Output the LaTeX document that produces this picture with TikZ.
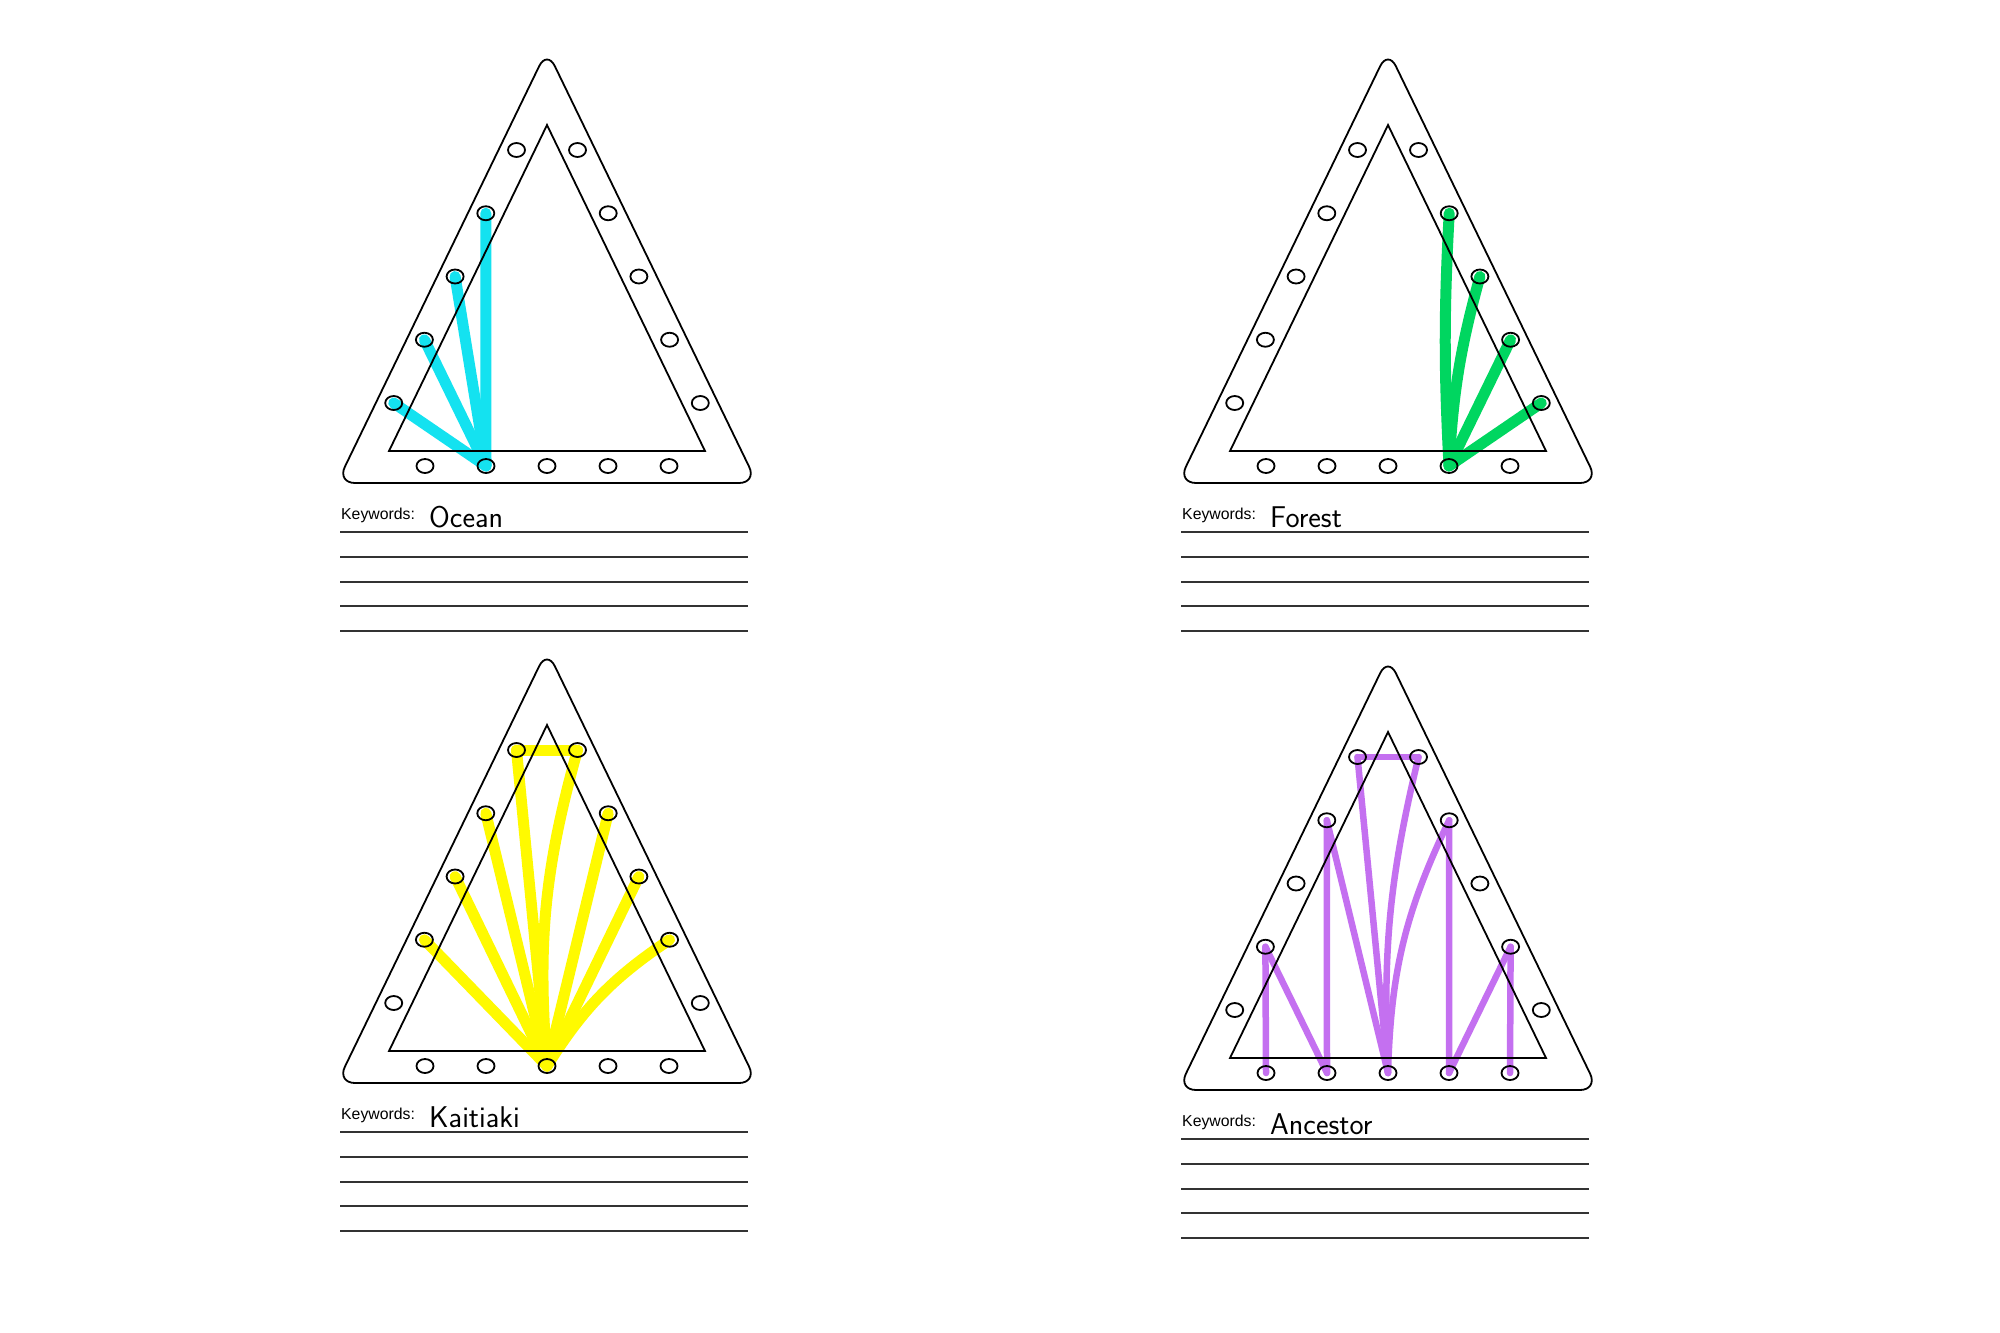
\documentclass[tikz,border=0pt]{standalone}
\usepackage{fontspec}
\setmainfont{Liberation Sans}
\usetikzlibrary{shapes.geometric}

\definecolor{oceancyan}{RGB}{20,226,240}
\definecolor{forestgreen}{RGB}{0,214,96}
\definecolor{kaitiakiyellow}{RGB}{255,250,0}
\definecolor{ancestorpurple}{RGB}{196,112,240}

\pgfdeclarelayer{paper}
\pgfdeclarelayer{ink}
\pgfsetlayers{paper,ink,main}

\tikzset{
  rim/.style={line width=1.8, rounded corners=18},
  edge/.style={line width=1.8},
  hole/.style={ellipse, draw, line width=1.8, minimum width=17, minimum height=14, inner sep=0},
  rule/.style={line width=1.6, black!80},
  kw/.style={font=\fontsize{15.8}{19}\selectfont, inner sep=0},
  hand/.style={font=\sffamily\fontsize{30}{36}\selectfont, inner sep=0},
  strand/.style={line width=11, line cap=round, draw=#1},
  thin strand/.style={line width=6.5, line cap=round, draw=#1},
}

% one lacing board: name, x shift, y shift, keyword
\newcommand{\board}[4]{%
  \begin{scope}[shift={(#2,#3)}]
    \draw[rim] (547,483) -- (757,483) -- (547,50) -- (337,483) -- cycle;
    \draw[edge] (547,125) -- (705,451) -- (389,451) -- cycle;
    \foreach \i in {1,...,5} {
      \node[hole] (#1L\i) at ({516.5-30.7*(\i-1)}, {150+63.25*(\i-1)}) {};
      \node[hole] (#1R\i) at ({577.5+30.7*(\i-1)}, {150+63.25*(\i-1)}) {};
      \node[hole] (#1B\i) at ({425+61*(\i-1)}, 466) {};
    }
    \node[kw, anchor=base west] (#1kw) at (341,519) {Keywords:};
    \node[hand, anchor=base west] (#1word) at (429,527) {#4};
    \foreach \y in {532,557,582,606,631} \draw[rule] (340,\y) -- (748,\y);
  \end{scope}}

\begin{document}
\begin{tikzpicture}[x=1pt, y=-1pt]
  \begin{pgfonlayer}{paper}
    \fill[white] (0,0) rectangle (2000,1333);
  \end{pgfonlayer}
  \useasboundingbox (0,0) rectangle (2000,1333);

  \board{oc}{0}{0}{Ocean}
  \board{fo}{841}{0}{Forest}
  \board{ka}{0}{600}{Kaitiaki}
  \board{an}{841}{607}{Ancestor}

  \begin{pgfonlayer}{ink}
    % Ocean
    \foreach \h in {L2,L3,L4,L5}
      \draw[strand=oceancyan] (ocB2.center) -- (oc\h.center);
    % Forest
    \draw[strand=forestgreen] (foB4.center) to[bend left=3] (foR2.center);
    \draw[strand=forestgreen] (foB4.center) to[bend left=6] (foR3.center);
    \draw[strand=forestgreen] (foB4.center) -- (foR4.center);
    \draw[strand=forestgreen] (foB4.center) -- (foR5.center);
    % Kaitiaki
    \draw[strand=kaitiakiyellow] (kaL1.center) -- (kaR1.center);
    \foreach \h in {L1,L2,L3,L4,R2,R3}
      \draw[strand=kaitiakiyellow] (kaB3.center) -- (ka\h.center);
    \draw[strand=kaitiakiyellow] (kaB3.center) to[bend left=10] (kaR1.center);
    \draw[strand=kaitiakiyellow] (kaB3.center) to[bend left=12] (kaR4.center);
    % Ancestor
    \draw[thin strand=ancestorpurple] (anL1.center) -- (anR1.center);
    \draw[thin strand=ancestorpurple] (anL1.center) -- (anB3.center);
    \draw[thin strand=ancestorpurple] (anB3.center) to[bend left=8] (anR1.center);
    \draw[thin strand=ancestorpurple] (anL2.center) -- (anB2.center);
    \draw[thin strand=ancestorpurple] (anL2.center) -- (anB3.center);
    \draw[thin strand=ancestorpurple] (anL4.center) -- (anB1.center);
    \draw[thin strand=ancestorpurple] (anL4.center) -- (anB2.center);
    \draw[thin strand=ancestorpurple] (anB3.center) to[bend left=12] (anR2.center);
    \draw[thin strand=ancestorpurple] (anR2.center) -- (anB4.center);
    \draw[thin strand=ancestorpurple] (anR4.center) -- (anB4.center);
    \draw[thin strand=ancestorpurple] (anR4.center) -- (anB5.center);
  \end{pgfonlayer}
\end{tikzpicture}
\end{document}
